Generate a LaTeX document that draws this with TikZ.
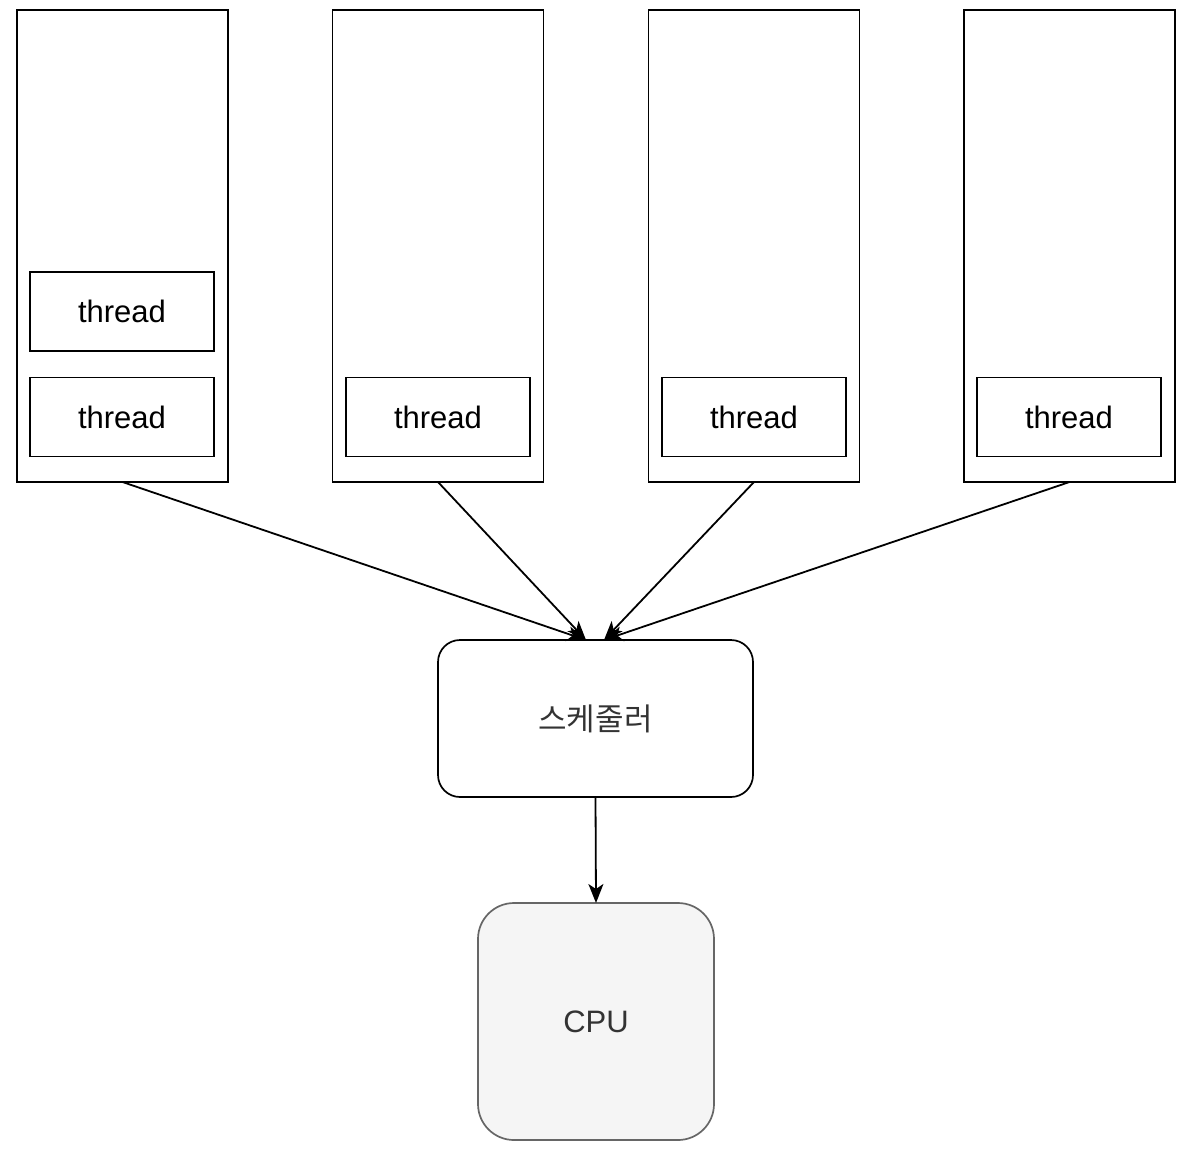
\documentclass[tikz,border=0pt]{standalone}
\usepackage{fontspec}
\setmainfont{Liberation Sans}
\newfontfamily\krfont{Noto Sans CJK KR}
\definecolor{cpufill}{RGB}{245, 245, 245}
\definecolor{cpuline}{RGB}{102, 102, 102}
\definecolor{cputext}{RGB}{51, 51, 51}
\usetikzlibrary{arrows.meta, positioning}

\begin{document}
\begin{tikzpicture}[
  x=1pt, y=-1pt,
  procbox/.style={draw, line width=1.7pt, minimum width=211pt, minimum height=472pt, inner sep=0pt, outer sep=0pt},
  thrbox/.style={draw, line width=1.7pt, minimum width=184pt, minimum height=79pt, inner sep=0pt, outer sep=0pt, font=\fontsize{31}{36}\selectfont},
  schbox/.style={draw, line width=1.7pt, rounded corners=22pt, minimum width=315pt, minimum height=157pt, inner sep=0pt, outer sep=0pt, font=\krfont\fontsize{31}{36}\selectfont, text=black!80},
  cpubox/.style={draw=cpuline, fill=cpufill, line width=1.7pt, rounded corners=36pt, minimum width=236pt, minimum height=237pt, inner sep=0pt, outer sep=0pt, text=cputext, font=\fontsize{31}{36}\selectfont},
  link/.style={-{Stealth[length=19pt, width=15pt, inset=5pt]}, line width=1.8pt}
]
  \useasboundingbox (0,0) rectangle (1191,1157);

  % processes
  \node[procbox] (proc1) at (122.5, 246) {};
  \node[procbox] (proc2) at (438, 246) {};
  \node[procbox] (proc3) at (754, 246) {};
  \node[procbox] (proc4) at (1069.5, 246) {};

  % threads
  \node[thrbox] (thr1a) at (122, 311.5) {thread};
  \node[thrbox] (thr1b) at (122, 417) {thread};
  \node[thrbox] (thr2) at (438, 417) {thread};
  \node[thrbox] (thr3) at (754, 417) {thread};
  \node[thrbox] (thr4) at (1069, 417) {thread};

  % scheduler and cpu
  \node[schbox] (sched) at (595.5, 718.5) {스케줄러};
  \node[cpubox] (cpu) at (596, 1021.5) {CPU};

  \coordinate (inL) at (586, 640);
  \coordinate (inR) at (604, 640);

  \draw[link] (proc1.south) -- (inL);
  \draw[link] (proc2.south) -- (inL);
  \draw[link] (proc3.south) -- (inR);
  \draw[link] (proc4.south) -- (inR);
  \draw[link] (sched.south) -- (cpu.north);
\end{tikzpicture}
\end{document}
